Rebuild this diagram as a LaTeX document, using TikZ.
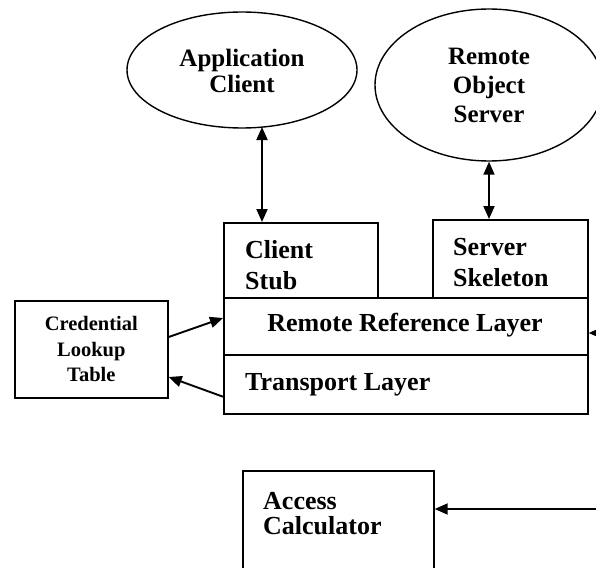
\documentclass[tikz,border=0pt]{standalone}
\usepackage{fontspec}
\setmainfont{Liberation Serif}
\usetikzlibrary{shapes.geometric,arrows.meta,calc}
\begin{document}
\begin{tikzpicture}[x=1pt,y=-1pt,
  shape box/.style={draw, line width=1.7pt, rectangle, inner sep=0pt, anchor=north west},
  oval/.style={draw, line width=1.4pt, ellipse, inner sep=0pt, align=center,
     font=\fontsize{25}{26}\selectfont\bfseries},
  lbl/.style={font=\fontsize{26}{31}\selectfont\bfseries, align=left, anchor=north west, inner sep=0pt},
  conn/.style={line width=1.9pt},
  tipend/.style={-{Triangle[length=13pt,width=11pt]}},
  tipboth/.style={{Triangle[length=13pt,width=11pt]}-{Triangle[length=13pt,width=11pt]}},
]
\useasboundingbox (0,0) rectangle (596,567);
\fill[white] (0,0) rectangle (596,567);

% ellipses
\node[oval, minimum width=230pt, minimum height=116pt] (ac) at (242,70)
  {\\[-6pt]Application\\Client};
\node[oval, minimum width=228pt, minimum height=152pt,
      font=\fontsize{25}{29}\selectfont\bfseries] (ros) at (489,85)
  {Remote\\Object\\Server};

% boxes
\node[shape box, minimum width=154pt, minimum height=75pt] (cs) at (223,222) {};
\node[shape box, minimum width=155pt, minimum height=78pt] (ss) at (432,219) {};
\node[shape box, minimum width=364pt, minimum height=57pt] (rrl) at (223,297) {};
\node[shape box, minimum width=364pt, minimum height=59pt] (tl) at (223,354) {};
\node[shape box, minimum width=153pt, minimum height=97pt, align=center,
      font=\fontsize{20.5}{25.5}\selectfont\bfseries] (cred) at (14,300)
  {Credential\\Lookup\\Table};
\node[shape box, minimum width=191pt, minimum height=120pt] (acc) at (242,470) {};

% labels
\node[lbl] (csl) at (245,240) {Client\\Stub};
\node[lbl] (ssl) at (453,238) {Server\\Skeleton};
\node[lbl, anchor=north] (rrll) at (405,313) {Remote Reference Layer};
\node[lbl] (tll) at (245,373) {Transport Layer};
\node[lbl, font=\fontsize{26}{25}\selectfont\bfseries] (accl) at (263,492) {Access\\Calculator};

% connectors
\coordinate (acbot) at (262,127);
\draw[conn, tipboth] (acbot) -- (acbot |- cs.north);
\draw[conn, tipboth] (ros.south) -- (ros.south |- ss.north);

\coordinate (c1) at ($(cred.north east)+(0,37)$);
\coordinate (c2) at ($(rrl.north west)+(0,21)$);
\draw[conn, tipend] (c1) -- (c2);
\coordinate (c3) at ($(tl.south west)+(0,-18)$);
\coordinate (c4) at ($(cred.north east)+(0,77)$);
\draw[conn, tipend] (c3) -- (c4);

\coordinate (r1) at (602,333);
\draw[conn, tipend] (r1) -- (r1 -| rrl.east);
\coordinate (r2) at (602,509);
\draw[conn, tipend] (r2) -- (r2 -| acc.east);
\end{tikzpicture}
\end{document}
